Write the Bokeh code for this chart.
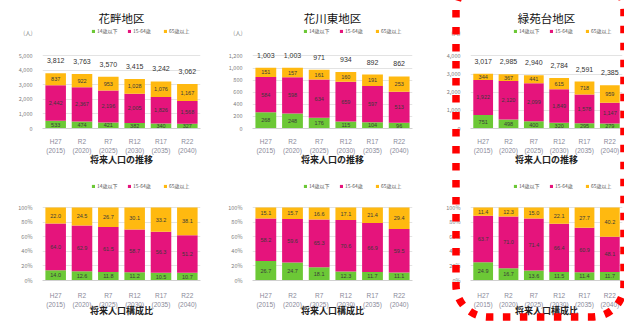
import numpy as np
from bokeh.plotting import figure
from bokeh.models import (ColumnDataSource, FactorRange, Range1d, Legend, LegendItem,
                          LabelSet, Div, FixedTicker, NumeralTickFormatter,
                          PrintfTickFormatter)
from bokeh.layouts import row, column
from bokeh.embed import file_html
from bokeh.resources import INLINE
from bokeh.core.properties import value

# ---------------- data ----------------
years = ["H27\n(2015)", "R2\n(2020)", "R7\n(2025)", "R12\n(2030)", "R17\n(2035)", "R22\n(2040)"]
series_names = ["14歳以下", "15-64歳", "65歳以上"]
series_colors = ["#6CC836", "#E5147C", "#FFB910"]
districts = ["花畔地区", "花川東地区", "緑苑台地区"]
count_title = "将来人口の推移"
pct_title = "将来人口構成比"
unit_label = "(人)"

# 花畔地区
banaguro_total = [3812, 3763, 3570, 3415, 3242, 3062]
banaguro_u14 = [533, 474, 421, 382, 340, 327]
banaguro_mid = [2442, 2367, 2196, 2005, 1826, 1568]
banaguro_old = [837, 922, 953, 1028, 1076, 1167]
banaguro_pct_u14 = [14.0, 12.6, 11.8, 11.2, 10.5, 10.7]
banaguro_pct_mid = [64.0, 62.9, 61.5, 58.7, 56.3, 51.2]
banaguro_pct_old = [22.0, 24.5, 26.7, 30.1, 33.2, 38.1]
banaguro_ticks = [0, 1000, 2000, 3000, 4000, 5000]

# 花川東地区
higashi_total = [1003, 1003, 971, 934, 892, 862]
higashi_u14 = [268, 248, 176, 115, 104, 96]
higashi_mid = [584, 598, 634, 659, 597, 513]
higashi_old = [151, 157, 161, 160, 191, 253]
higashi_pct_u14 = [26.7, 24.7, 18.1, 12.3, 11.7, 11.1]
higashi_pct_mid = [58.2, 59.6, 65.3, 70.6, 66.9, 59.5]
higashi_pct_old = [15.1, 15.7, 16.6, 17.1, 21.4, 29.4]
higashi_ticks = [0, 200, 400, 600, 800, 1000, 1200]

# 緑苑台地区
ryokuen_total = [3017, 2985, 2940, 2784, 2591, 2385]
ryokuen_u14 = [751, 498, 400, 320, 295, 279]
ryokuen_mid = [1922, 2120, 2099, 1849, 1578, 1147]
ryokuen_old = [344, 367, 441, 615, 718, 959]
ryokuen_pct_u14 = [24.9, 16.7, 13.6, 11.5, 11.4, 11.7]
ryokuen_pct_mid = [63.7, 71.0, 71.4, 66.4, 60.9, 48.1]
ryokuen_pct_old = [11.4, 12.3, 15.0, 22.1, 27.7, 40.2]
ryokuen_ticks = [0, 1000, 2000, 3000, 4000]

pct_ticks = [0, 20, 40, 60, 80, 100]

FONT = "Noto Sans CJK JP"
LATIN = "Liberation Sans"
GRAY = "#808080"


def make_chart(w, h, bl, br, bt, bb, tick_px, ticks, u14, mid, old, is_pct,
               title=None, title_offset=0, total=None, legend_px=8,
               label_standoff=5, title_standoff=-7):
    fh = h - bt - bb                       # frame height (px)
    fw = w - bl - br                       # frame width (px)
    ymax = ticks[-1] * fh / (fh - tick_px)  # top tick sits tick_px below frame top
    p = figure(x_range=FactorRange(*years), y_range=Range1d(0, ymax),
               width=w, height=h, min_border_left=bl, min_border_right=br,
               min_border_top=bt, min_border_bottom=bb,
               output_backend="svg", toolbar_location=None, tools="")
    p.outline_line_color = None
    p.background_fill_color = "white"
    p.border_fill_color = "white"
    p.xgrid.grid_line_color = None
    p.ygrid.ticker = FixedTicker(ticks=ticks)
    p.ygrid.grid_line_color = "#dcdcdc"
    p.ygrid.grid_line_width = 0.8

    axis_ticks = list(ticks)
    if not is_pct:
        unit_val = int(round(ymax * (fh - 5) / fh))
        axis_ticks.append(unit_val)
        p.yaxis.major_label_overrides = {unit_val: unit_label}
    p.yaxis.ticker = FixedTicker(ticks=axis_ticks)
    p.yaxis.formatter = PrintfTickFormatter(format="%d%%") if is_pct else NumeralTickFormatter(format="0,0")
    p.yaxis.axis_line_color = None
    p.yaxis.major_tick_line_color = None
    p.yaxis.minor_tick_line_color = None
    p.yaxis.major_label_text_font = FONT
    p.yaxis.major_label_text_font_size = "5.5px"
    p.yaxis.major_label_text_color = GRAY
    p.yaxis.major_label_standoff = 4

    p.xaxis.axis_line_color = "#d0d0d0"
    p.xaxis.major_tick_line_color = None
    p.xaxis.minor_tick_line_color = None
    p.xaxis.major_label_text_font = LATIN
    p.xaxis.major_label_text_font_size = "6.5px"
    p.xaxis.major_label_text_line_height = 1.35
    p.xaxis.major_label_text_color = "#8a8a9a"
    p.xaxis.major_label_standoff = label_standoff
    p.xaxis.axis_label = pct_title if is_pct else count_title
    p.xaxis.axis_label_text_font = FONT
    p.xaxis.axis_label_text_font_size = "9px"
    p.xaxis.axis_label_text_font_style = "bold"
    p.xaxis.axis_label_text_color = "#222222"
    p.xaxis.axis_label_standoff = title_standoff

    if title is not None:
        p.title.text = title
        p.title.align = "center"
        p.title.text_font = FONT
        p.title.text_font_size = "11.5px"
        p.title.text_font_style = "normal"
        p.title.text_color = "#111111"
        p.title.standoff = 6
        p.title.offset = title_offset

    src = ColumnDataSource(dict(year=years, a=u14, b=mid, c=old))
    rends = p.vbar_stack(["a", "b", "c"], x="year", width=0.78, color=series_colors,
                         line_color=None, source=src)

    # segment labels
    ua, ma, oa = np.array(u14, float), np.array(mid, float), np.array(old, float)
    fmt = (lambda v: f"{v:.1f}") if is_pct else (lambda v: f"{int(v):,}")
    seg = ColumnDataSource(dict(
        x=years * 3,
        y=list(ua / 2) + list(ua + ma / 2) + list(ua + ma + oa / 2),
        t=[fmt(v) for v in list(ua) + list(ma) + list(oa)],
    ))
    p.text(x="x", y="y", text="t", source=seg, text_align="center",
           text_baseline="middle", text_font=value(LATIN), text_font_size="5.5px",
           text_color="#3a3a3a")

    if total is not None:
        tsrc = ColumnDataSource(dict(year=years, total=total, t=[f"{v:,}" for v in total]))
        p.add_layout(LabelSet(x="year", y="total", text="t", source=tsrc, y_offset=10,
                              text_align="center", text_baseline="bottom",
                              text_font=value(LATIN), text_font_size="7px",
                              text_color="#333333"))

    items = [LegendItem(label=n, renderers=[r]) for n, r in zip(series_names, rends)]
    leg = Legend(items=items, orientation="horizontal",
                 location=(fw - 110, fh - legend_px - 9),
                 background_fill_alpha=0, border_line_alpha=0,
                 label_text_font=FONT, label_text_font_size="5px",
                 label_text_color="#595959",
                 glyph_width=4, glyph_height=4, label_height=5, label_width=27,
                 label_standoff=2, spacing=3, padding=1, margin=0)
    p.add_layout(leg)
    return p


top_h, bot_h = 168, 154
# top charts: frame from y=28 to y=130, top tick at y=56
top_kw = dict(legend_px=0, label_standoff=3, title_standoff=-4)
f1 = make_chart(210, top_h, 42, 10, 28, 38, 28, banaguro_ticks, banaguro_u14, banaguro_mid,
                banaguro_old, False, districts[0], 5, banaguro_total, **top_kw)
f2 = make_chart(210, top_h, 42, 8, 28, 38, 28, higashi_ticks, higashi_u14, higashi_mid,
                higashi_old, False, districts[1], 5, higashi_total, **top_kw)
f3 = make_chart(204, top_h, 50, 2, 28, 38, 28, ryokuen_ticks, ryokuen_u14, ryokuen_mid,
                ryokuen_old, False, districts[2], 8, ryokuen_total, **top_kw)
# bottom charts: frame from y=10 to y=112, 100% at y=39
f4 = make_chart(210, bot_h, 42, 10, 10, 42, 29, pct_ticks, banaguro_pct_u14, banaguro_pct_mid,
                banaguro_pct_old, True, legend_px=3)
f5 = make_chart(210, bot_h, 42, 8, 10, 42, 29, pct_ticks, higashi_pct_u14, higashi_pct_mid,
                higashi_pct_old, True, legend_px=3)
f6 = make_chart(204, bot_h, 50, 2, 10, 42, 29, pct_ticks, ryokuen_pct_u14, ryokuen_pct_mid,
                ryokuen_pct_old, True, legend_px=3)

svg = ('<svg xmlns="http://www.w3.org/2000/svg" width="180" height="353">'
       '<rect x="7" y="7" width="168" height="339" rx="32" ry="32" fill="none" '
       'stroke="#FF0000" stroke-width="7.5" stroke-dasharray="7.5 9.5"/></svg>')
frame_div = Div(text=svg, width=180, height=353,
                styles={"position": "absolute", "left": "444px", "top": "-34px",
                        "z-index": "10", "pointer-events": "none"})

layout = row(column(f1, f4, spacing=0), column(f2, f5, spacing=0),
             column(f3, f6, spacing=0), frame_div, spacing=0)

open("out.html", "w").write(file_html(layout, INLINE))
